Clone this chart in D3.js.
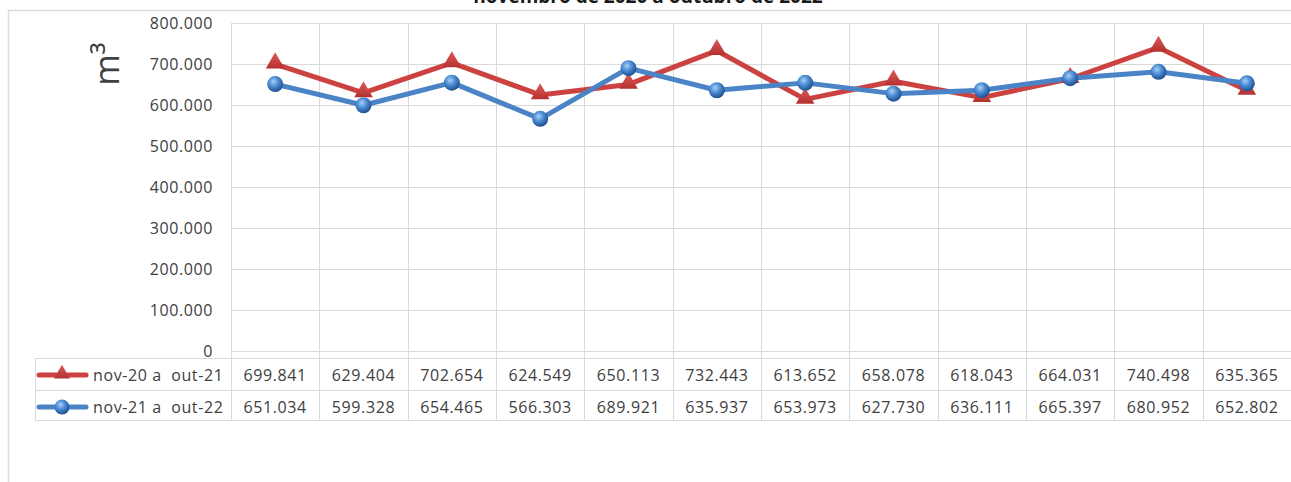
<!DOCTYPE html>
<html>
<head>
<meta charset="utf-8">
<script src="https://cdn.jsdelivr.net/npm/d3@7"></script>
<style>
  html, body { margin: 0; padding: 0; background: #fff; }
  svg { display: block; font-family: "Open Sans", "DejaVu Sans", sans-serif; }
</style>
</head>
<body>
<svg id="chart" width="1291" height="482"></svg>
<script>
// Monthly volumes (m³), November to October
const months = ["nov", "dez", "jan", "fev", "mar", "abr", "mai", "jun", "jul", "ago", "set", "out"];
const seriesNames = ["nov-20 a  out-21", "nov-21 a  out-22"];
const period1 = [699841, 629404, 702654, 624549, 650113, 732443, 613652, 658078, 618043, 664031, 740498, 635365];
const period2 = [651034, 599328, 654465, 566303, 689921, 635937, 653973, 627730, 636111, 665397, 680952, 652802];
const yTicks = [0, 100000, 200000, 300000, 400000, 500000, 600000, 700000, 800000];
const titleText = "novembro de 2020 a outubro de 2022";
const unitText = "m³";

const colors = ["#cb4241", "#4a83c6"];
const textColor = "#404040";
const fontSize = 16;
const letterSpacing = 0.6;

const svg = d3.select("#chart");
const W = 1291, H = 482;

const plot = { left: 231, right: 1291, top: 23, bottom: 351 };
const table = { left: 35, top: 358, rowH: 32 };

const locale = d3.formatLocale({ decimal: ",", thousands: ".", grouping: [3], currency: ["R$", ""] });
const fmt = locale.format(",d");

const x = d3.scaleBand().domain(months).range([plot.left, plot.right]);
const y = d3.scaleLinear().domain([0, 800000]).range([plot.bottom, plot.top]);

const defs = svg.append("defs");
const sphere = defs.append("radialGradient").attr("id", "sphere")
  .attr("cx", "40%").attr("cy", "35%").attr("r", "65%");
sphere.append("stop").attr("offset", "0%").attr("stop-color", "#a9d0f5");
sphere.append("stop").attr("offset", "45%").attr("stop-color", "#4f8fd6");
sphere.append("stop").attr("offset", "100%").attr("stop-color", "#1f4f8f");
const tri = defs.append("linearGradient").attr("id", "tri").attr("x1", 0).attr("y1", 0).attr("x2", 0).attr("y2", 1);
tri.append("stop").attr("offset", "0%").attr("stop-color", "#dc5b59");
tri.append("stop").attr("offset", "100%").attr("stop-color", "#b3302f");

// Chart frame
svg.append("path")
  .attr("d", `M8.5,${H} V10.5 H${W}`)
  .attr("fill", "none").attr("stroke", "#dcdcdc").attr("stroke-width", 1.5);

// Title (sits above the frame)
svg.append("text")
  .attr("x", 648).attr("y", 3)
  .attr("text-anchor", "middle")
  .attr("font-size", 19).attr("font-weight", "bold").attr("fill", "#1a1a1a")
  .text(titleText);

// Horizontal gridlines and y tick labels
const yAxis = d3.axisLeft(y).tickValues(yTicks).tickSize(0).tickPadding(18)
  .tickFormat(d => d === 0 ? "0" : fmt(d));
const gy = svg.append("g").attr("transform", `translate(${plot.left},0)`).call(yAxis);
gy.select(".domain").remove();
gy.selectAll("text").attr("font-size", fontSize).attr("fill", textColor)
  .attr("letter-spacing", letterSpacing)
  .attr("font-family", "'Open Sans', sans-serif");

svg.append("g").selectAll("line").data(yTicks).join("line")
  .attr("x1", plot.left).attr("x2", plot.right)
  .attr("y1", d => Math.round(y(d)) + 0.5).attr("y2", d => Math.round(y(d)) + 0.5)
  .attr("stroke", "#d9d9d9").attr("stroke-width", 1);

// Vertical category gridlines, running through the plot and the data table
const tableBottom = table.top + table.rowH * 2 - 2;
const bounds = months.map(m => x(m)).concat([plot.right]);
svg.append("g").selectAll("line").data(bounds).join("line")
  .attr("x1", d => Math.round(d) + 0.5).attr("x2", d => Math.round(d) + 0.5)
  .attr("y1", plot.top).attr("y2", tableBottom)
  .attr("stroke", "#d9d9d9").attr("stroke-width", 1);

// Unit label
svg.append("text")
  .attr("transform", `translate(119,64) rotate(-90)`)
  .attr("text-anchor", "middle")
  .attr("font-size", 34).attr("fill", textColor)
  .text(unitText);

// Data table
const tg = svg.append("g");
[0, 1, 2].forEach(i => {
  const yy = table.top + i * (i === 2 ? table.rowH - 1 : table.rowH);
  tg.append("line")
    .attr("x1", table.left).attr("x2", plot.right)
    .attr("y1", yy + 0.5).attr("y2", yy + 0.5)
    .attr("stroke", "#d9d9d9");
});
tg.append("line")
  .attr("x1", table.left + 0.5).attr("x2", table.left + 0.5)
  .attr("y1", table.top).attr("y2", tableBottom)
  .attr("stroke", "#d9d9d9");

const allSeries = [period1, period2];
allSeries.forEach((vals, si) => {
  const cy = table.top + table.rowH * si + table.rowH / 2 + 1;
  const row = tg.append("g");
  row.selectAll("text.val").data(vals).join("text")
    .attr("class", "val")
    .attr("x", (d, i) => x(months[i]) + x.bandwidth() / 2)
    .attr("y", cy)
    .attr("dy", "0.35em")
    .attr("text-anchor", "middle")
    .attr("font-size", fontSize).attr("letter-spacing", letterSpacing).attr("fill", textColor)
    .text(d => fmt(d));
  // legend key
  row.append("line")
    .attr("x1", 39).attr("x2", 86).attr("y1", cy).attr("y2", cy)
    .attr("stroke", colors[si]).attr("stroke-width", 5).attr("stroke-linecap", "round");
  if (si === 0) {
    row.append("path").attr("d", d3.symbol(d3.symbolTriangle, 110)())
      .attr("transform", `translate(62,${cy - 1})`).attr("fill", "url(#tri)");
  } else {
    row.append("circle").attr("cx", 62).attr("cy", cy).attr("r", 7.5).attr("fill", "url(#sphere)");
  }
  row.append("text")
    .attr("x", 93).attr("y", cy).attr("dy", "0.35em")
    .attr("font-size", fontSize).attr("letter-spacing", letterSpacing).attr("fill", textColor)
    .attr("xml:space", "preserve").style("white-space", "pre")
    .text(seriesNames[si]);
});

// Lines and markers
const line = d3.line().x((d, i) => x(months[i]) + x.bandwidth() / 2).y(d => y(d));

allSeries.forEach((vals, si) => {
  svg.append("path").datum(vals)
    .attr("d", line)
    .attr("fill", "none").attr("stroke", colors[si]).attr("stroke-width", 5)
    .attr("stroke-linejoin", "round");
});

svg.append("g").selectAll("path").data(period1).join("path")
  .attr("d", d3.symbol(d3.symbolTriangle, 150)())
  .attr("transform", (d, i) => `translate(${x(months[i]) + x.bandwidth() / 2},${y(d) - 1})`)
  .attr("fill", "url(#tri)");

svg.append("g").selectAll("circle").data(period2).join("circle")
  .attr("cx", (d, i) => x(months[i]) + x.bandwidth() / 2)
  .attr("cy", d => y(d))
  .attr("r", 8)
  .attr("fill", "url(#sphere)");
</script>
</body>
</html>
